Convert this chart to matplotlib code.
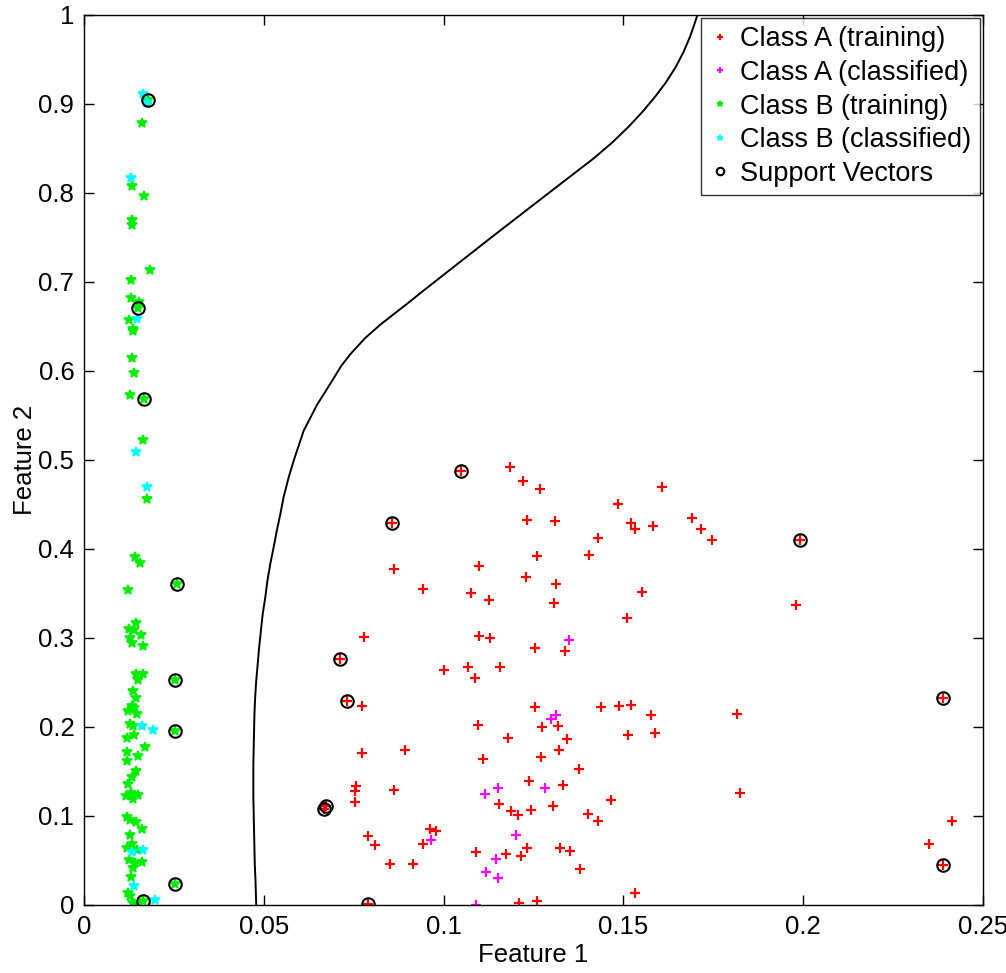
import numpy as np
import matplotlib
matplotlib.use("Agg")
import matplotlib.pyplot as plt

plt.rcParams['font.family'] = ['Liberation Sans', 'DejaVu Sans']

# Class A (training) - red '+'
a_train_x = [0.1049, 0.1186, 0.1221, 0.1269, 0.0856, 0.1231, 0.1311, 0.1261, 0.1099, 0.0861,
             0.1229, 0.1314, 0.0944, 0.1076, 0.1127, 0.1307, 0.0780, 0.1099, 0.1128, 0.1254,
             0.0711, 0.1001, 0.1068, 0.1158, 0.1088,
             0.0731, 0.0773, 0.1255, 0.1097, 0.1274, 0.1318, 0.1179, 0.0773, 0.0894, 0.1321,
             0.1271, 0.1109, 0.1237, 0.0756, 0.0754, 0.0861, 0.0753, 0.1154, 0.1305, 0.0667,
             0.0672, 0.1189, 0.1207, 0.1242, 0.0963, 0.0979, 0.0789, 0.0809, 0.0944, 0.1089,
             0.1231, 0.1323, 0.1175, 0.1216, 0.0850, 0.0914, 0.0791, 0.1209, 0.1261,
             0.1607, 0.1485, 0.1522, 0.1532, 0.1582, 0.1692, 0.1715, 0.1747, 0.1991, 0.1430,
             0.1405, 0.1552, 0.1510, 0.1981, 0.1339,
             0.1437, 0.1489, 0.1520, 0.1577, 0.1815, 0.1344, 0.1514, 0.1588, 0.1377, 0.1332,
             0.1466, 0.1824, 0.1402, 0.1430, 0.1352, 0.1380, 0.1532,
             0.2389, 0.2414, 0.2350, 0.2389]
a_train_y = [0.488, 0.492, 0.476, 0.467, 0.429, 0.433, 0.431, 0.392, 0.381, 0.378,
             0.368, 0.361, 0.355, 0.351, 0.343, 0.339, 0.301, 0.302, 0.300, 0.289,
             0.276, 0.264, 0.267, 0.267, 0.255,
             0.229, 0.224, 0.222, 0.202, 0.200, 0.201, 0.188, 0.171, 0.174, 0.174,
             0.166, 0.164, 0.139, 0.134, 0.128, 0.129, 0.116, 0.114, 0.111, 0.108,
             0.111, 0.106, 0.101, 0.107, 0.085, 0.083, 0.077, 0.067, 0.068, 0.060,
             0.064, 0.064, 0.057, 0.055, 0.046, 0.046, 0.001, 0.002, 0.004,
             0.470, 0.450, 0.429, 0.422, 0.426, 0.435, 0.422, 0.410, 0.410, 0.412,
             0.393, 0.352, 0.323, 0.337, 0.285,
             0.222, 0.224, 0.225, 0.213, 0.215, 0.187, 0.191, 0.193, 0.153, 0.135,
             0.118, 0.126, 0.102, 0.094, 0.061, 0.040, 0.014,
             0.233, 0.094, 0.069, 0.045]

# Class A (classified) - magenta '+'
a_cls_x = [0.1314, 0.1299, 0.1152, 0.1116, 0.1281, 0.0964, 0.1202, 0.1147, 0.1119, 0.1152,
           0.1091, 0.1349]
a_cls_y = [0.214, 0.209, 0.131, 0.125, 0.131, 0.073, 0.079, 0.052, 0.037, 0.030,
           0.000, 0.298]

# Class B (training) - green '*'
b_train_x = [0.0178, 0.0161, 0.0134, 0.0167, 0.0134, 0.0134, 0.0184, 0.0131, 0.0131, 0.0153,
             0.0150, 0.0125, 0.0136, 0.0136, 0.0134, 0.0139, 0.0128, 0.0167, 0.0164, 0.0175,
             0.0142, 0.0156, 0.0122, 0.0259,
             0.0145, 0.0125, 0.0139, 0.0159, 0.0128, 0.0134, 0.0164, 0.0145, 0.0164, 0.0150,
             0.0136, 0.0145, 0.0134, 0.0122, 0.0139, 0.0148, 0.0128, 0.0136, 0.0120, 0.0139,
             0.0170, 0.0120, 0.0150, 0.0120, 0.0145, 0.0134, 0.0122, 0.0131, 0.0117, 0.0150,
             0.0136, 0.0120, 0.0128, 0.0145, 0.0161, 0.0128, 0.0134, 0.0120, 0.0148, 0.0125,
             0.0142, 0.0161, 0.0136, 0.0131, 0.0122, 0.0136, 0.0142, 0.0128,
             0.0253, 0.0253, 0.0253, 0.0164]
b_train_y = [0.904, 0.879, 0.808, 0.797, 0.770, 0.764, 0.714, 0.702, 0.682, 0.678,
             0.671, 0.657, 0.647, 0.645, 0.615, 0.598, 0.573, 0.569, 0.522, 0.456,
             0.391, 0.384, 0.354, 0.361,
             0.317, 0.310, 0.309, 0.303, 0.300, 0.294, 0.291, 0.260, 0.260, 0.253,
             0.240, 0.233, 0.224, 0.218, 0.221, 0.215, 0.203, 0.201, 0.188, 0.191,
             0.178, 0.172, 0.167, 0.162, 0.151, 0.144, 0.136, 0.126, 0.122, 0.124,
             0.119, 0.099, 0.096, 0.093, 0.085, 0.079, 0.068, 0.064, 0.062, 0.051,
             0.047, 0.048, 0.042, 0.031, 0.013, 0.002, 0.001, 0.010,
             0.253, 0.195, 0.024, 0.0045]

# Class B (classified) - cyan '*'
b_cls_x = [0.0164, 0.0175, 0.0131, 0.0148, 0.0145, 0.0175, 0.0161, 0.0192, 0.0134, 0.0164,
           0.0139, 0.0198]
b_cls_y = [0.911, 0.901, 0.817, 0.658, 0.509, 0.470, 0.201, 0.197, 0.060, 0.062,
           0.021, 0.006]

# Support vectors - black circles
sv_x = [0.0178, 0.0150, 0.0167, 0.0259, 0.0253, 0.0253, 0.0253, 0.0164,
        0.1049, 0.0856, 0.0711, 0.0731, 0.0667, 0.0672, 0.0791, 0.1991, 0.2389, 0.2389]
sv_y = [0.904, 0.671, 0.569, 0.361, 0.253, 0.195, 0.024, 0.0045,
        0.488, 0.429, 0.276, 0.229, 0.108, 0.111, 0.001, 0.410, 0.233, 0.045]

# decision boundary
bound_x = [0.0479, 0.0477, 0.0475, 0.0474, 0.0473, 0.0472, 0.0471, 0.0471, 0.0471, 0.0472,
           0.0473, 0.0474, 0.0476, 0.0479, 0.0483, 0.0487, 0.0492, 0.0497, 0.0504, 0.0510,
           0.0518, 0.0527, 0.0536, 0.0546, 0.0555, 0.0569, 0.0583, 0.0597, 0.0611, 0.0629,
           0.0648, 0.0670, 0.0690, 0.0716, 0.0741, 0.0782, 0.0824, 0.0862, 0.0897, 0.0937,
           0.1019, 0.1139, 0.1251, 0.1344, 0.1418, 0.1470, 0.1516, 0.1555, 0.1590, 0.1618,
           0.1645, 0.1667, 0.1685, 0.1698, 0.1706]
bound_y = [0.000, 0.027, 0.046, 0.064, 0.083, 0.102, 0.121, 0.139, 0.158, 0.177,
           0.196, 0.214, 0.233, 0.252, 0.270, 0.289, 0.308, 0.327, 0.345, 0.364,
           0.383, 0.401, 0.420, 0.439, 0.458, 0.480, 0.499, 0.516, 0.533, 0.547,
           0.562, 0.576, 0.589, 0.606, 0.619, 0.637, 0.652, 0.664, 0.675, 0.688,
           0.714, 0.752, 0.787, 0.816, 0.839, 0.857, 0.875, 0.892, 0.909, 0.924,
           0.941, 0.958, 0.975, 0.990, 1.000]

xticks = [0, 0.05, 0.1, 0.15, 0.2, 0.25]
xtick_labels = ['0', '0.05', '0.1', '0.15', '0.2', '0.25']
yticks = [0, 0.1, 0.2, 0.3, 0.4, 0.5, 0.6, 0.7, 0.8, 0.9, 1]
ytick_labels = ['0', '0.1', '0.2', '0.3', '0.4', '0.5', '0.6', '0.7', '0.8', '0.9', '1']

fig = plt.figure(figsize=(10.06, 9.73), dpi=100)
ax = fig.add_axes([0.0835, 0.0699, 0.8935, 0.9147])

ax.plot(a_train_x, a_train_y, '+', color='#ff0000', ms=7, mew=1.6, label='Class A (training)')
ax.plot(a_cls_x, a_cls_y, '+', color='#ff00ff', ms=7, mew=1.6, label='Class A (classified)')
ax.plot(b_train_x, b_train_y, '*', color='#00ee00', ms=7, mew=1.2, label='Class B (training)')
ax.plot(b_cls_x, b_cls_y, '*', color='#00ffff', ms=7, mew=1.2, label='Class B (classified)')
ax.plot(sv_x, sv_y, 'o', mfc='none', mec='black', ms=9, mew=1.5, label='Support Vectors')
ax.plot(bound_x, bound_y, '-', color='black', lw=1.4, solid_joinstyle='round')

ax.set_xlim(0, 0.25); ax.set_ylim(0, 1)
ax.set_xticks(xticks); ax.set_xticklabels(xtick_labels)
ax.set_yticks(yticks); ax.set_yticklabels(ytick_labels)
ax.tick_params(direction='in', length=7, width=1, top=True, right=True, labelsize=18.5, pad=7)
for s in ax.spines.values():
    s.set_linewidth(1)

ax.set_xlabel('Feature 1', fontsize=18.5, labelpad=3)
ax.set_ylabel('Feature 2', fontsize=18.5, labelpad=1)

leg = ax.legend(loc='upper right', fontsize=19.5, markerscale=0.6, frameon=True, fancybox=False,
                edgecolor='black', borderaxespad=0.12, borderpad=0.3, handlelength=0.8,
                handletextpad=0.35, labelspacing=0.28)
leg.get_frame().set_linewidth(1)

fig.savefig('out.png', dpi=100)
